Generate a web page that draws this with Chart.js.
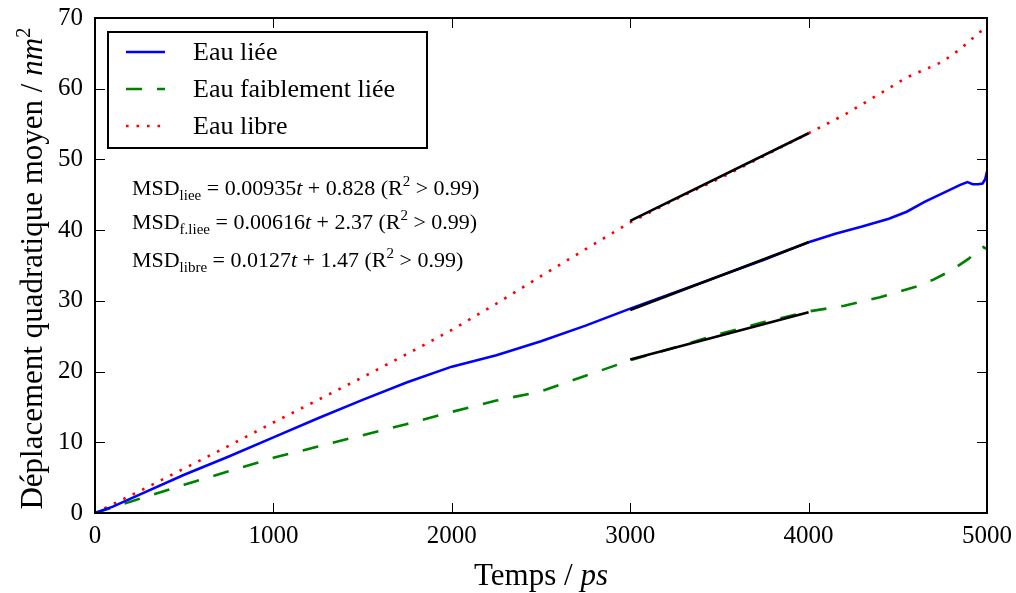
<!DOCTYPE html>
<html>
<head>
<meta charset="utf-8">
<script src="https://cdn.jsdelivr.net/npm/chart.js@4.4.0/dist/chart.umd.min.js"></script>
<style>
  html, body { margin: 0; padding: 0; background: #fff; }
  canvas { display: block; }
</style>
</head>
<body>
<canvas id="msdChart" width="1016" height="593"></canvas>
<script>
// valeurs (temps en ps, MSD en nm^2)
const timeLiee = [0, 100, 250, 500, 750, 1000, 1250, 1500, 1750, 2000, 2250, 2500, 2750, 3000, 3250, 3500, 3750, 4000, 4150, 4300, 4450, 4550, 4650, 4750, 4850, 4890, 4920, 4950, 4975, 4990, 5000];
const msdLiee = [0, 0.9, 2.6, 5.4, 8.0, 10.7, 13.4, 16.0, 18.5, 20.7, 22.3, 24.3, 26.5, 28.9, 31.2, 33.5, 35.8, 38.3, 39.5, 40.5, 41.6, 42.6, 44.0, 45.2, 46.4, 46.8, 46.5, 46.5, 46.6, 47.2, 48.3];

const timeFaible = [0, 100, 250, 500, 750, 1000, 1250, 1500, 1750, 2000, 2250, 2500, 2750, 3000, 3250, 3500, 3750, 4000, 4200, 4400, 4600, 4700, 4800, 4900, 4950, 4980, 5000];
const msdFaible = [0, 0.8, 2.0, 4.0, 5.9, 7.8, 9.4, 11.0, 12.6, 14.3, 15.9, 17.2, 19.4, 21.6, 23.4, 25.3, 27.0, 28.5, 29.3, 30.5, 32.0, 33.0, 34.3, 36.0, 37.2, 37.6, 37.3];

const timeLibre = [0, 250, 500, 750, 1000, 1250, 1500, 1750, 2000, 2250, 2500, 2750, 3000, 3250, 3500, 3750, 4000, 4200, 4400, 4550, 4650, 4750, 4850, 4950, 5000];
const msdLibre = [0, 3.1, 6.3, 9.5, 12.8, 16.0, 19.2, 22.5, 25.9, 29.6, 33.5, 37.3, 41.1, 44.3, 47.3, 50.5, 53.7, 56.3, 59.3, 61.6, 62.7, 63.8, 65.6, 67.8, 68.8];

// droites d'ajustement entre 3000 et 4000 ps
const fitTime = [3000, 4000];
const fitLiee = [28.7, 38.3];
const fitFaible = [21.7, 28.4];
const fitLibre = [41.3, 53.7];

const xTicks = [0, 1000, 2000, 3000, 4000, 5000];
const yTicks = [0, 10, 20, 30, 40, 50, 60, 70];

const legendLabels = ['Eau liée', 'Eau faiblement liée', 'Eau libre'];
const eqSubs = ['liee', 'f.liee', 'libre'];
const eqSlopes = ['0.00935', '0.00616', '0.0127'];
const eqIntercepts = ['0.828', '2.37', '1.47'];
const eqY = [46.0, 41.2, 35.8];

const SERIF = '"Liberation Serif", "DejaVu Serif", serif';

const toPoints = (xs, ys) => xs.map((x, i) => ({ x, y: ys[i] }));

function drawRich(ctx, segments, x, y) {
    let cx = x;
    segments.forEach(seg => {
        ctx.font = seg.font;
        ctx.fillText(seg.t, cx, y + (seg.dy || 0));
        cx += ctx.measureText(seg.t).width;
    });
    return cx - x;
}

function richWidth(ctx, segments) {
    return segments.reduce((w, seg) => {
        ctx.font = seg.font;
        return w + ctx.measureText(seg.t).width;
    }, 0);
}

const framePlugin = {
    id: 'frame',
    afterDatasetsDraw(chart) {
        const { ctx, chartArea: a, scales } = chart;
        ctx.save();
        ctx.strokeStyle = '#000';
        ctx.lineWidth = 1;
        ctx.beginPath();
        xTicks.forEach(v => {
            const px = Math.round(scales.x.getPixelForValue(v)) + 0.5;
            ctx.moveTo(px, a.bottom); ctx.lineTo(px, a.bottom - 10);
            ctx.moveTo(px, a.top); ctx.lineTo(px, a.top + 10);
        });
        yTicks.forEach(v => {
            const py = Math.round(scales.y.getPixelForValue(v)) + 0.5;
            ctx.moveTo(a.left, py); ctx.lineTo(a.left + 10, py);
            ctx.moveTo(a.right, py); ctx.lineTo(a.right - 10, py);
        });
        ctx.stroke();
        ctx.lineWidth = 2;
        ctx.strokeRect(a.left, a.top, a.right - a.left, a.bottom - a.top);

        // équations
        ctx.fillStyle = '#000';
        ctx.textBaseline = 'alphabetic';
        const f = '22px ' + SERIF;
        const fs = '15px ' + SERIF;
        const fi = 'italic 22px ' + SERIF;
        eqSubs.forEach((sub, i) => {
            const px = scales.x.getPixelForValue(207);
            const py = scales.y.getPixelForValue(eqY[i]) + 7;
            drawRich(ctx, [
                { t: 'MSD', font: f },
                { t: sub, font: fs, dy: 5 },
                { t: ' = ' + eqSlopes[i], font: f },
                { t: 't', font: fi },
                { t: ' + ' + eqIntercepts[i] + ' (R', font: f },
                { t: '2', font: fs, dy: -9 },
                { t: ' > 0.99)', font: f }
            ], px, py);
        });

        // légende
        const lx = a.left + 13, ly = a.top + 14, lw = 319, lh = 116;
        ctx.fillStyle = '#fff';
        ctx.fillRect(lx, ly, lw, lh);
        ctx.lineWidth = 2;
        ctx.strokeRect(lx, ly, lw, lh);
        const sets = chart.data.datasets.filter(d => legendLabels.includes(d.label));
        sets.forEach((d, i) => {
            const yy = ly + 20 + i * 37;
            ctx.save();
            ctx.strokeStyle = d.borderColor;
            ctx.lineWidth = d.borderWidth;
            ctx.setLineDash(d.borderDash || []);
            ctx.lineCap = 'butt';
            ctx.beginPath();
            ctx.moveTo(lx + 18, yy);
            ctx.lineTo(lx + 57, yy);
            ctx.stroke();
            ctx.restore();
            ctx.fillStyle = '#000';
            ctx.font = '26px ' + SERIF;
            ctx.textBaseline = 'middle';
            ctx.fillText(d.label, lx + 85, yy + 1);
        });

        // titres des axes
        ctx.textBaseline = 'alphabetic';
        ctx.fillStyle = '#000';
        const xTitle = [
            { t: 'Temps / ', font: '31px ' + SERIF },
            { t: 'ps', font: 'italic 31px ' + SERIF }
        ];
        const xw = richWidth(ctx, xTitle);
        drawRich(ctx, xTitle, (a.left + a.right) / 2 - xw / 2, 585);

        const yTitle = [
            { t: 'Déplacement quadratique moyen / ', font: '31px ' + SERIF },
            { t: 'nm', font: 'italic 31px ' + SERIF },
            { t: '2', font: '21px ' + SERIF, dy: -12 }
        ];
        const yw = richWidth(ctx, yTitle);
        ctx.save();
        ctx.translate(42, (a.top + a.bottom) / 2 + 3);
        ctx.rotate(-Math.PI / 2);
        drawRich(ctx, yTitle, -yw / 2, 0);
        ctx.restore();
        ctx.restore();
    }
};

const ctx = document.getElementById('msdChart').getContext('2d');
new Chart(ctx, {
    type: 'line',
    data: {
        datasets: [
            { label: 'fit liee', data: toPoints(fitTime, fitLiee), borderColor: '#000', borderWidth: 2.6, order: 0 },
            { label: 'fit faible', data: toPoints(fitTime, fitFaible), borderColor: '#000', borderWidth: 2.6, order: 0 },
            { label: 'fit libre', data: toPoints(fitTime, fitLibre), borderColor: '#000', borderWidth: 2.6, order: 0 },
            { label: legendLabels[0], data: toPoints(timeLiee, msdLiee), borderColor: '#0000ff', borderWidth: 2.6, order: 1 },
            { label: legendLabels[1], data: toPoints(timeFaible, msdFaible), borderColor: '#008000', borderWidth: 2.6, borderDash: [16, 15], order: 1 },
            { label: legendLabels[2], data: toPoints(timeLibre, msdLibre), borderColor: '#ff0000', borderWidth: 2.6, borderDash: [2.6, 7.9], borderCapStyle: 'butt', order: 1 }
        ]
    },
    options: {
        responsive: false,
        animation: false,
        devicePixelRatio: 1,
        elements: {
            point: { radius: 0 },
            line: { tension: 0, fill: false }
        },
        layout: { padding: { top: 18, right: 29, left: 0, bottom: 0 } },
        scales: {
            x: {
                type: 'linear',
                min: 0,
                max: 5000,
                grid: { display: false, drawTicks: false },
                border: { display: false },
                ticks: {
                    stepSize: 1000,
                    padding: 8,
                    color: '#000',
                    font: { family: SERIF, size: 25 },
                    maxRotation: 0,
                    callback: v => String(v)
                },
                afterFit: s => { s.height = 80; s.paddingLeft = 0; s.paddingRight = 0; }
            },
            y: {
                min: 0,
                max: 70,
                grid: { display: false, drawTicks: false },
                border: { display: false },
                ticks: {
                    stepSize: 10,
                    padding: 12,
                    color: '#000',
                    font: { family: SERIF, size: 25 },
                    callback: v => String(v)
                },
                afterFit: s => { s.width = 95; s.paddingTop = 0; s.paddingBottom = 0; }
            }
        },
        plugins: {
            legend: { display: false },
            tooltip: { enabled: false }
        }
    },
    plugins: [framePlugin]
});
</script>
</body>
</html>
